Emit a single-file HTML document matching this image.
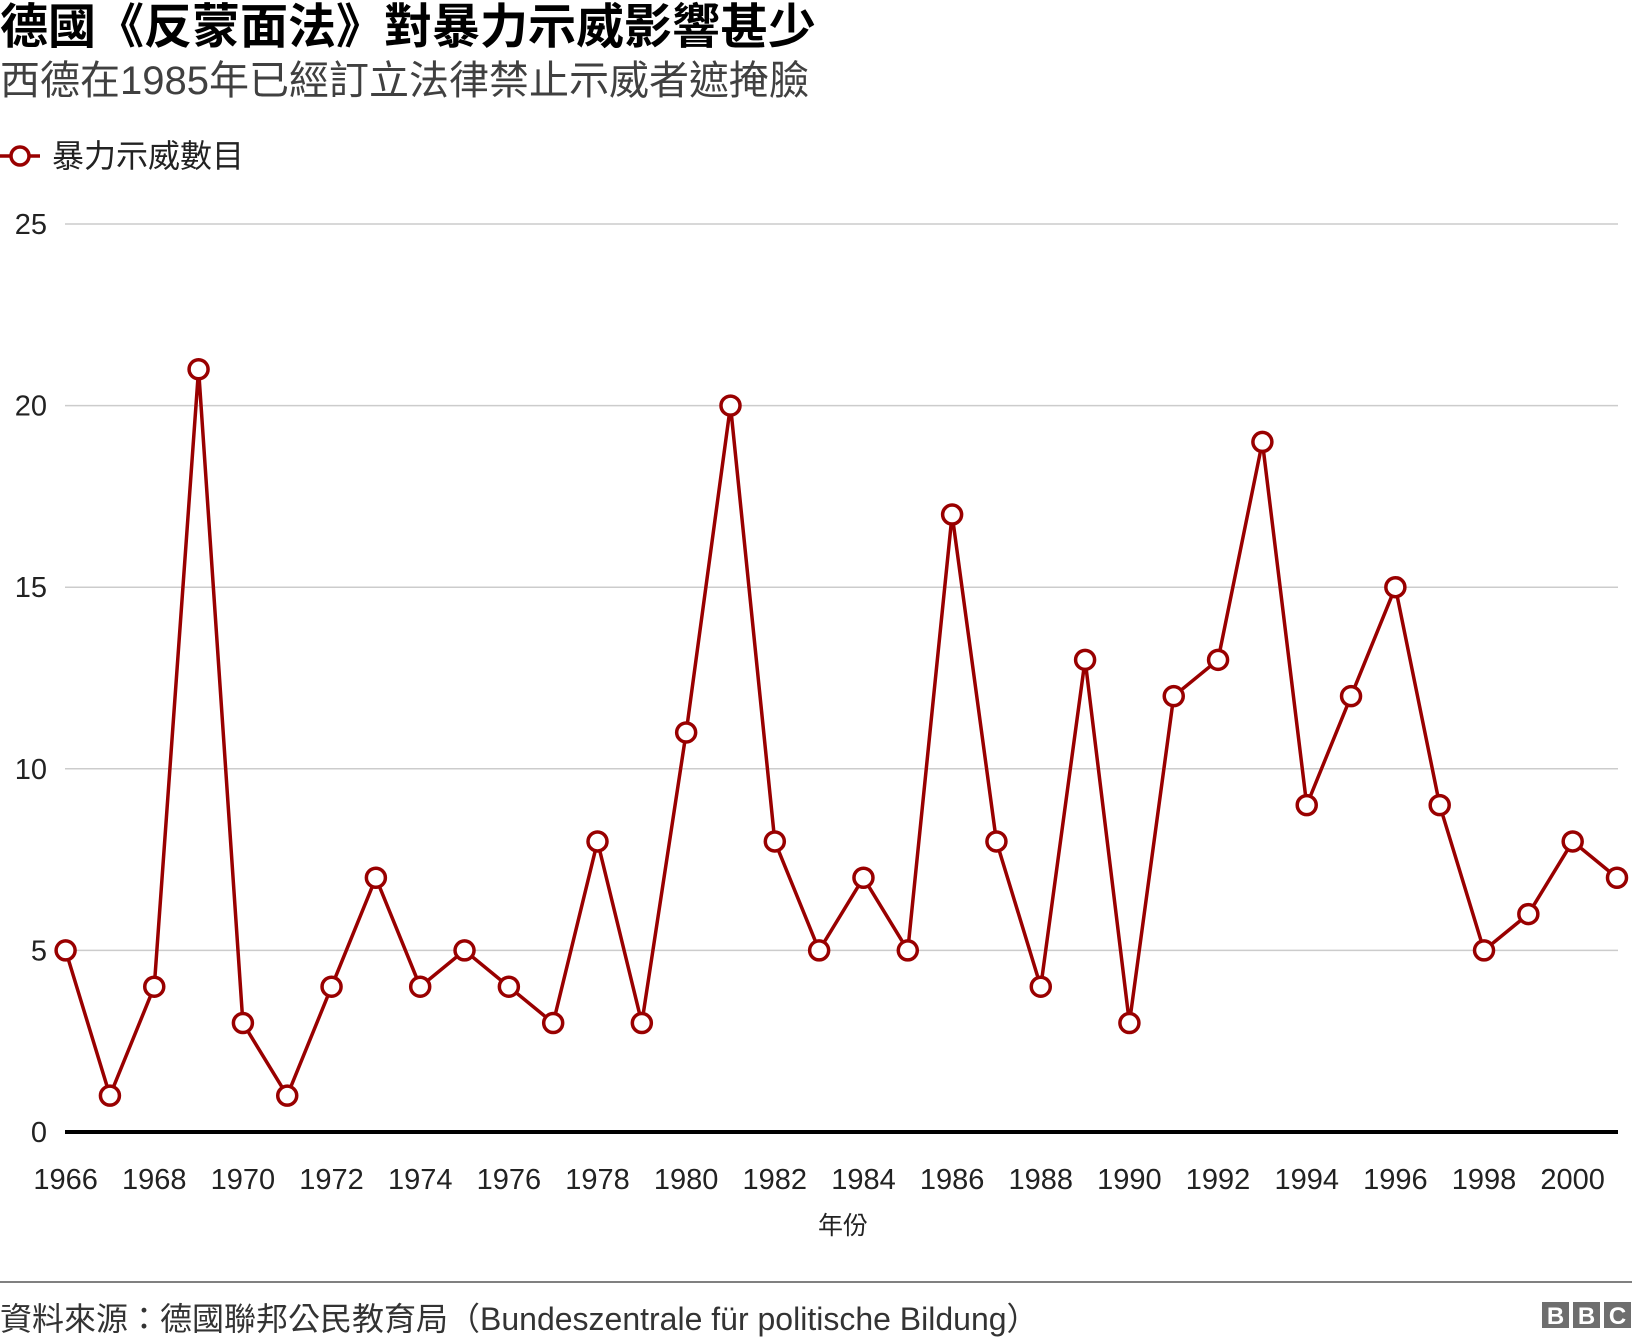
<!DOCTYPE html>
<html><head><meta charset="utf-8">
<style>
body{margin:0;width:1632px;height:1340px;background:#fff;overflow:hidden;font-family:"Liberation Sans","Noto Sans CJK TC",sans-serif;position:relative}
.t{position:absolute;white-space:nowrap}
</style></head><body>
<div class="t" style="left:0;top:0;font-size:48px;font-weight:bold;line-height:56px;color:#000">德國《反蒙面法》對暴力示威影響甚少</div>
<div class="t" style="left:0;top:58px;font-size:40px;line-height:46px;color:#404040">西德在1985年已經訂立法律禁止示威者遮掩臉</div>
<svg width="1632" height="1340" style="position:absolute;left:0;top:0" id="chart"></svg>
<script>
const years=[1966,1967,1968,1969,1970,1971,1972,1973,1974,1975,1976,1977,1978,1979,1980,1981,1982,1983,1984,1985,1986,1987,1988,1989,1990,1991,1992,1993,1994,1995,1996,1997,1998,1999,2000,2001];
const values=[5,1,4,21,3,1,4,7,4,5,4,3,8,3,11,20,8,5,7,5,17,8,4,13,3,12,13,19,9,12,15,9,5,6,8,7];
const yTicks=[0,5,10,15,20,25];
const xTicks=[1966,1968,1970,1972,1974,1976,1978,1980,1982,1984,1986,1988,1990,1992,1994,1996,1998,2000];
const svg=document.getElementById('chart');
const NS='http://www.w3.org/2000/svg';
const x=v=>65.6+(v-1966)*(1617-65.6)/35;
const y=v=>1132-v*(1132-224)/25;
function mk(tag,attrs,parent){const e=document.createElementNS(NS,tag);for(const k in attrs)e.setAttribute(k,attrs[k]);(parent||svg).appendChild(e);return e;}
yTicks.forEach(t=>{
  if(t>0){const g=mk('line',{x1:65,x2:1618,y1:y(t),y2:y(t),stroke:'#cccccc','stroke-width':1.5});
  
  }
  const l=mk('text',{x:47,y:y(t)+10,'text-anchor':'end','font-size':29,fill:'#222','font-family':'Liberation Sans, sans-serif'});
  l.textContent=t;
  
  
});
const ax=mk('line',{x1:65,x2:1618,y1:1132,y2:1132,stroke:'#000','stroke-width':4});


xTicks.forEach(t=>{
  const l=mk('text',{x:x(t),y:1189,'text-anchor':'middle','font-size':29,fill:'#222','font-family':'Liberation Sans, sans-serif'});
  l.textContent=t;
  
  
});
const xt=mk('text',{x:843,y:1234,'text-anchor':'middle','font-size':25,fill:'#222','font-family':'Liberation Sans, Noto Sans CJK TC, sans-serif'});
xt.textContent='年份';


const pl=mk('polyline',{points:years.map((yr,i)=>x(yr)+','+y(values[i])).join(' '),fill:'none',stroke:'#990000','stroke-width':3.5,'stroke-linejoin':'miter'});


years.forEach((yr,i)=>{
  const c=mk('circle',{cx:x(yr),cy:y(values[i]),r:9.5,fill:'#fff',stroke:'#990000','stroke-width':3.5});
  
  
});
const lg=mk('g',{});


mk('line',{x1:0,x2:40,y1:156,y2:156,stroke:'#990000','stroke-width':3.5},lg);
mk('circle',{cx:20,cy:156,r:9,fill:'#fff',stroke:'#990000','stroke-width':3.5},lg);
const lt=mk('text',{x:52,y:167,'font-size':32,fill:'#222','font-family':'Liberation Sans, Noto Sans CJK TC, sans-serif'},lg);
lt.textContent='暴力示威數目';
const fl=mk('line',{x1:0,x2:1632,y1:1282,y2:1282,stroke:'#808080','stroke-width':2});


const ft=mk('text',{x:0,y:1330,'font-size':32,fill:'#333','font-family':'Liberation Sans, Noto Sans CJK TC, sans-serif'});
ft.textContent='資料來源：德國聯邦公民教育局（Bundeszentrale für politische Bildung）';


const logo=mk('g',{});


['B','B','C'].forEach((ch,i)=>{
  const bx=1542+i*31;
  mk('rect',{x:bx,y:1302,width:27,height:26,fill:'#6e6e6e'},logo);
  const tt=mk('text',{x:bx+13.5,y:1324,'text-anchor':'middle','font-size':24,'font-weight':'bold',fill:'#fff','font-family':'Liberation Sans, sans-serif'},logo);
  tt.textContent=ch;
});
</script>
</body></html>
